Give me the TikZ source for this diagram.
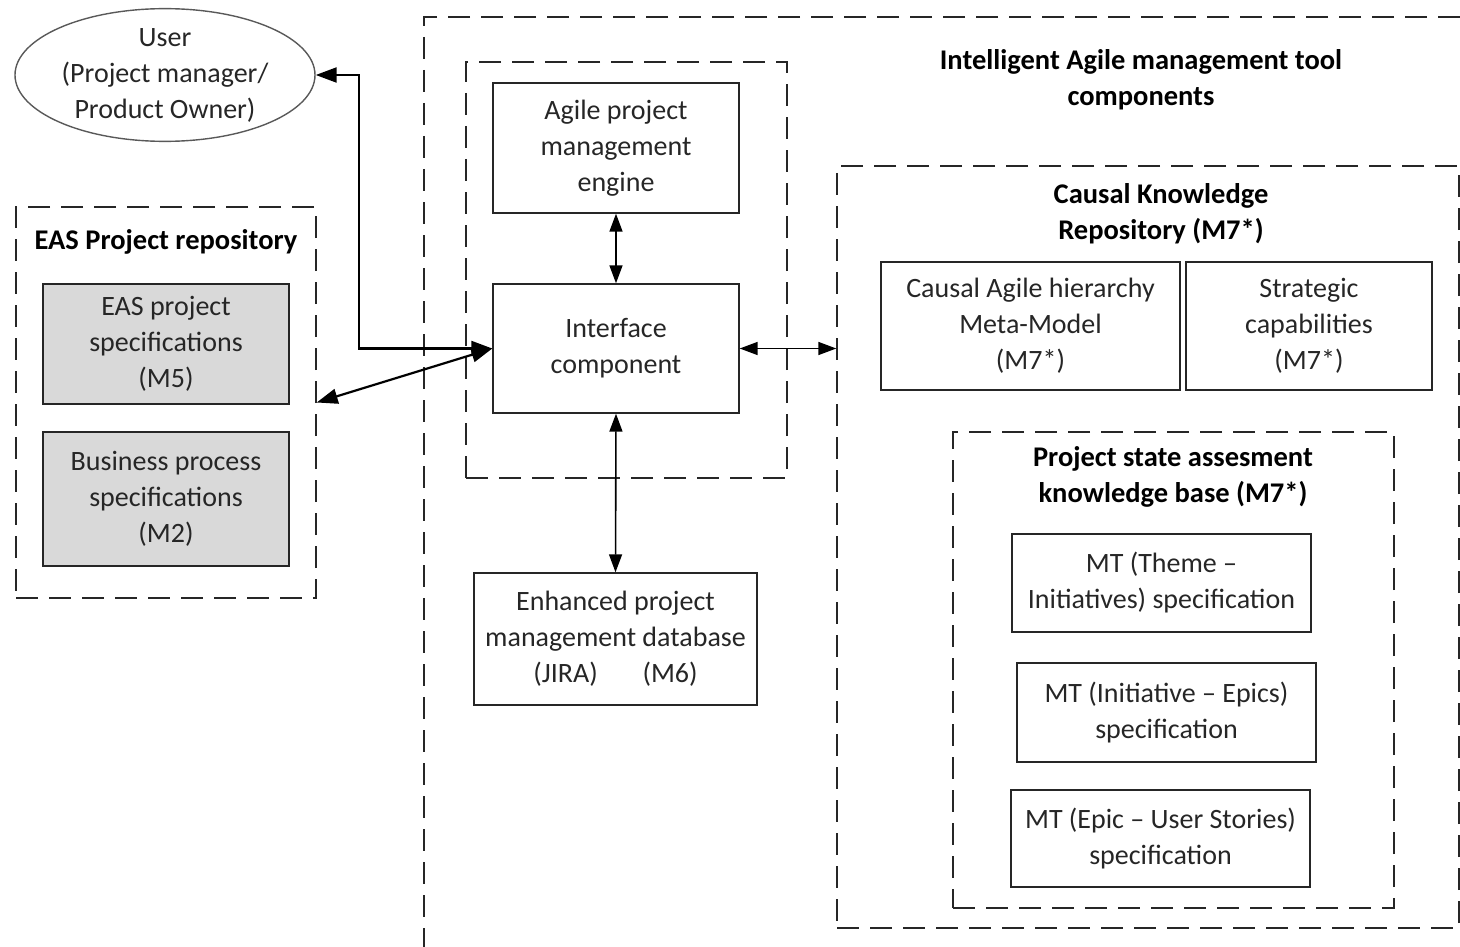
\documentclass[tikz,border=0pt]{standalone}
\usepackage{fontspec}
\setmainfont{Carlito}
\usetikzlibrary{arrows.meta,calc,shapes.geometric}
\begin{document}
\begin{tikzpicture}[x=1pt,y=-1pt,
  txt/.style={font=\fontsize{28}{36}\selectfont, align=center, text=black!85},
  ttl/.style={font=\fontsize{28.5}{36}\selectfont\bfseries, align=center},
  box/.style={txt, draw=black!85, line width=1.4pt, inner sep=0pt},
  gbox/.style={box, fill=black!15},
  dashbox/.style={draw=black!85, line width=1.4pt, dash pattern=on 22pt off 11pt, inner sep=0pt},
  arr/.style={draw=black, line width=1.6pt, {Triangle[length=18pt,width=13pt]}-{Triangle[length=18pt,width=13pt]}},
  tarr/.style={draw=black, line width=2.2pt, {Triangle[length=21pt,width=15pt]}-{Triangle[length=21pt,width=15pt]}}
]
\useasboundingbox (0,0) rectangle (1460,947);
% outer open dashed frame
\draw[dashbox] (1460,17) -- (424,17) -- (424,947);
\node[ttl] (maintitle) at (1141,80) {Intelligent Agile management tool\\components};

% dashed groups
\node[dashbox, minimum width=321pt, minimum height=416pt] (grp) at (626.5,270) {};
\node[dashbox, minimum width=300pt, minimum height=391pt] (eas) at (166,402.5) {};
\node[ttl] (eastitle) at (166,242) {EAS Project repository};
\node[dashbox, minimum width=622pt, minimum height=762pt] (ckr) at (1148,547) {};
\node[ttl] (ckrtitle) at (1161,214) {Causal Knowledge\\Repository (M7*)};
\node[dashbox, minimum width=441pt, minimum height=476pt] (psa) at (1173.5,670) {};
\node[ttl] (psatitle) at (1173,477) {Project state assesment\\knowledge base (M7*)};

% user
\node[txt, draw=black!65, line width=1.4pt, ellipse, minimum width=300pt, minimum height=132pt, inner sep=0pt] (user) at (165,75) {User\\(Project manager/\\Product Owner)};

% boxes
\node[box, minimum width=246pt, minimum height=130pt] (engine) at (616,148) {Agile project\\management\\engine};
\node[box, minimum width=246pt, minimum height=129pt] (iface) at (616,348.5) {Interface\\component};
\node[box, minimum width=283pt, minimum height=132pt] (db) at (615.5,639) {Enhanced project\\management database\\(JIRA)\hspace{1.6em}(M6)};
\node[gbox, minimum width=246pt, minimum height=120pt] (easspec) at (166,344) {EAS project\\specifications\\(M5)};
\node[gbox, minimum width=246pt, minimum height=134pt] (bp) at (166,499) {Business process\\specifications\\(M2)};
\node[box, minimum width=299pt, minimum height=128pt] (cah) at (1030.5,326) {Causal Agile hierarchy\\Meta-Model\\(M7*)};
\node[box, minimum width=246pt, minimum height=128pt] (strat) at (1309,326) {Strategic\\capabilities\\(M7*)};
\node[box, minimum width=299pt, minimum height=98pt] (mt1) at (1161.5,583) {MT (Theme --\\Initiatives) specification};
\node[box, minimum width=299pt, minimum height=99pt] (mt2) at (1166.5,712.5) {MT (Initiative -- Epics)\\specification};
\node[box, minimum width=299pt, minimum height=97pt] (mt3) at (1160.5,838.5) {MT (Epic -- User Stories)\\specification};

% connectors
\draw[tarr] (iface.west) -| ($(user.east)+(43,0)$) -- (user.east);
\draw[tarr] (iface.west) -- (eas.east);
\draw[arr] (engine.south) -- (iface.north);
\draw[arr] (iface.south) -- (db.north);
\draw[arr] (iface.east) -- (iface.east -| ckr.west);
\end{tikzpicture}
\end{document}
